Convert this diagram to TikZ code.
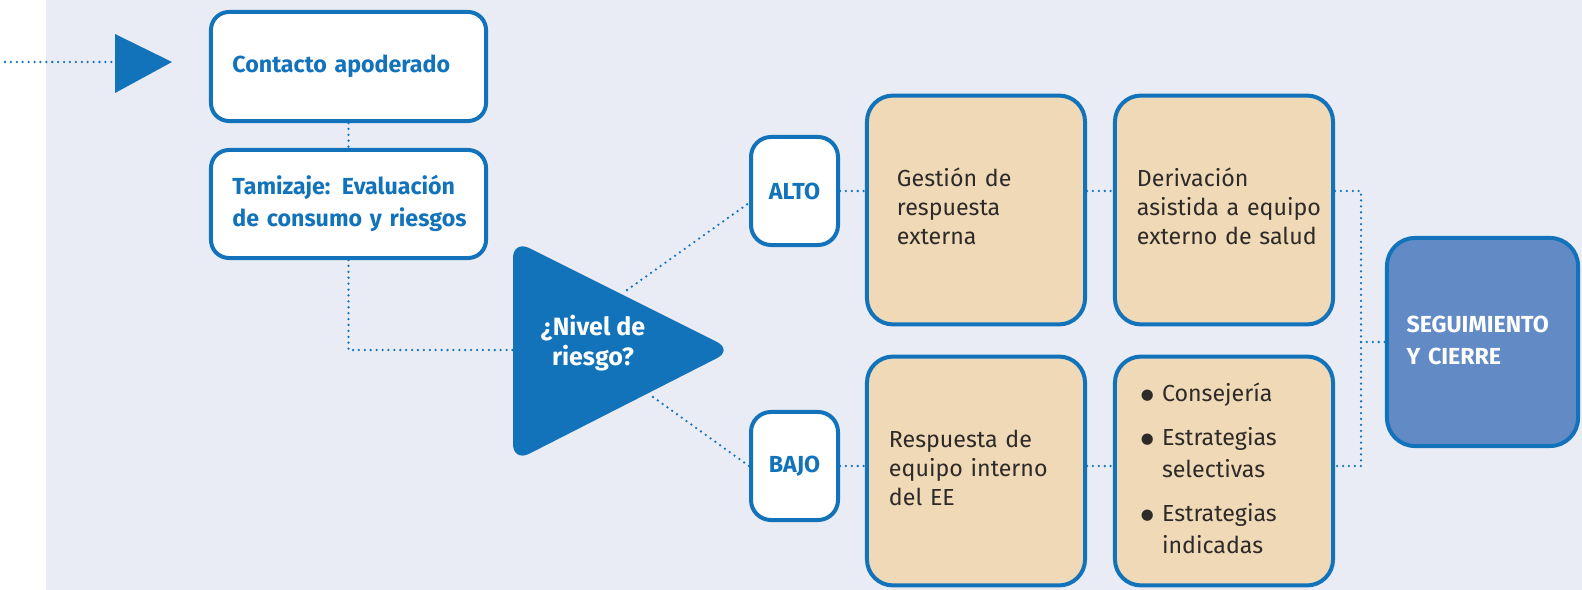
\documentclass[tikz,border=0pt]{standalone}
\usepackage{fontspec}
\setmainfont{Fira Sans}
\newfontfamily\simbolos{DejaVu Sans}
\definecolor{azul}{RGB}{18,115,187}
\definecolor{fondo}{RGB}{233,236,245}
\definecolor{crema}{RGB}{240,217,183}
\definecolor{celeste}{RGB}{98,139,198}
\definecolor{tinta}{RGB}{45,42,40}
\newcommand{\renglones}[1]{\begin{tabular}{@{}l@{}}#1\end{tabular}}
\newcommand{\punto}{\makebox[0.525cm][l]{\raisebox{1.6pt}{\simbolos\fontsize{10.5}{10.5}\selectfont ●}}}

\begin{document}
\begin{tikzpicture}[x=0.025cm, y=0.025cm]
  \tikzstyle{every node}+=[inner sep=0pt]
  \tikzstyle{caja}=[draw=azul, line width=0.1cm, align=left]
  \tikzstyle{blanca}=[caja, fill=white, rounded corners=0.45cm, text=azul, font=\bfseries\fontsize{16.5}{22.8}\selectfont]
  \tikzstyle{nivelcaja}=[blanca, rounded corners=0.5cm, minimum width=2.175cm, minimum height=2.7cm, align=center]
  \tikzstyle{paso}=[caja, fill=crema, rounded corners=0.65cm, minimum width=5.45cm, minimum height=5.72cm, text=tinta, font=\fontsize{16.5}{20.6}\selectfont]
  \tikzstyle{conn}=[azul, line width=1.8pt, line cap=round, dash pattern=on 0pt off 4.2pt]
  \useasboundingbox (0,0) rectangle (1582,-590);
  \fill [fondo] (46,0) rectangle (1582,-590);
  % flecha de entrada
  \coordinate (inicio) at (5,-62);
  \coordinate (flecha) at (115,-62);
  \fill [azul] (115,-34) -- (172,-62) -- (115,-93) -- cycle;
  % triangulo de decision
  \fill [azul, rounded corners=0.45cm] (513,-240) -- (733,-350) -- (513,-462) -- cycle;
  \coordinate (nivelW) at (513,-350);
  \coordinate (nivelN) at (627,-290);
  \coordinate (nivelS) at (653,-397);
  \node [text=white, align=center, font=\bfseries\fontsize{17.8}{21.5}\selectfont] (nivel) at (593,-343) {¿Nivel de\\riesgo?};
  % cajas
  \node [blanca, minimum width=6.875cm, minimum height=2.725cm, text width=5.8cm] (contacto) at (348.5,-66.5) {\raisebox{-0.1cm}{Contacto apoderado}};
  \node [blanca, minimum width=6.875cm, minimum height=2.7cm, text width=5.8cm] (tamizaje) at (348.5,-204) {\renglones{Tamizaje:\hspace{0.5em}Evaluación\\de consumo y riesgos}};
  \node [nivelcaja] (alto) at (794.5,-191) {ALTO};
  \node [nivelcaja] (bajo) at (794.5,-466) {BAJO};
  \node [paso, text width=3.95cm] (gestion) at (976,-210) {\renglones{Gestión de\\respuesta\\externa}};
  \node [paso, text width=4.35cm] (derivacion) at (1224,-210) {\renglones{Derivación\\asistida a equipo\\externo de salud}};
  \node [paso, text width=4.35cm] (respuesta) at (976,-471) {\renglones{Respuesta de\\equipo interno\\del EE}};
  \node [paso, text width=4.15cm, font=\fontsize{16.5}{22.8}\selectfont] (estrategias) at (1224,-471) {\renglones{%
    \punto Consejería\\[0.3cm]
    \punto Estrategias\\
    \hspace*{0.525cm}selectivas\\[0.3cm]
    \punto Estrategias\\
    \hspace*{0.525cm}indicadas}};
  \node [caja, fill=celeste, rounded corners=0.7cm, minimum width=4.775cm, minimum height=5.2cm, text width=3.8cm, text=white, font=\bfseries\fontsize{16.5}{22.8}\selectfont] (seguimiento) at (1482.5,-342) {\renglones{SEGUIMIENTO\\Y CIERRE}};
  % conectores
  \coordinate (brk) at (1361,-342);
  \draw [conn] (inicio) -- (flecha);
  \draw [conn] (contacto.south) -- (tamizaje.north);
  \draw [conn] (tamizaje.south) |- (nivelW);
  \draw [conn] (nivelN) -- ([yshift=-0.3cm]alto.west);
  \draw [conn] (nivelS) -- (bajo.west);
  \draw [conn] (alto.east) -- (alto.east -| gestion.west);
  \draw [conn] (gestion.east |- alto.east) -- (derivacion.west |- alto.east);
  \draw [conn] (bajo.east) -- (bajo.east -| respuesta.west);
  \draw [conn] (respuesta.east |- bajo.east) -- (estrategias.west |- bajo.east);
  \draw [conn] (derivacion.east |- alto.east) -| (brk) |- (estrategias.east |- bajo.east);
  \draw [conn] (brk) -- (brk -| seguimiento.west);
\end{tikzpicture}
\end{document}
